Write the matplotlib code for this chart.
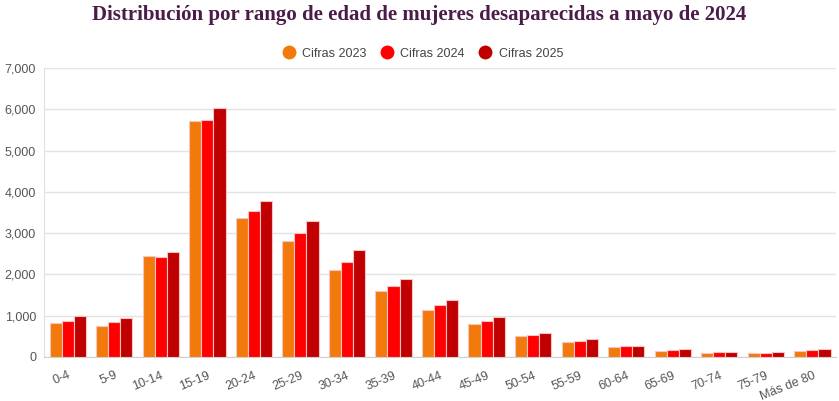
import numpy as np
import matplotlib.pyplot as plt
from matplotlib.ticker import FuncFormatter
from matplotlib.lines import Line2D

categories = ["0-4", "5-9", "10-14", "15-19", "20-24", "25-29", "30-34",
              "35-39", "40-44", "45-49", "50-54", "55-59", "60-64",
              "65-69", "70-74", "75-79", "Más de 80"]

cifras_2023 = [823, 760, 2437, 5714, 3366, 2801, 2115, 1590, 1138, 799,
               508, 355, 242, 145, 105, 97, 153]
cifras_2024 = [880, 850, 2430, 5747, 3527, 3002, 2308, 1727, 1251, 880,
               541, 387, 258, 161, 113, 105, 169]
cifras_2025 = [985, 936, 2542, 6029, 3777, 3301, 2583, 1897, 1388, 969,
               581, 436, 274, 186, 129, 129, 194]

series_labels = ["Cifras 2023", "Cifras 2024", "Cifras 2025"]
colors = ["#f27a0c", "#ff0000", "#c00000"]

plt.rcParams["font.family"] = ["Liberation Sans", "DejaVu Sans"]

fig = plt.figure(figsize=(8.39, 4.01), dpi=100)
ax = fig.add_axes([0.053, 0.11, 0.943, 0.72])

x = np.arange(len(categories))
width = 0.26
for i, (vals, col) in enumerate(zip([cifras_2023, cifras_2024, cifras_2025], colors)):
    ax.bar(x + (i - 1) * width, vals, width, color=col,
           edgecolor="#f6c4c4", linewidth=0.8, zorder=3)

ax.set_xlim(-0.5, len(categories) - 0.5)
ax.set_ylim(0, 7000)
ax.set_yticks(range(0, 7001, 1000))
ax.yaxis.set_major_formatter(FuncFormatter(lambda v, p: f"{int(v):,}"))
ax.grid(axis="y", color="#e3e3e3", linewidth=1, zorder=0)

for s in ["top", "right"]:
    ax.spines[s].set_visible(False)
ax.spines["left"].set_color("#e0e0e0")
ax.spines["bottom"].set_color("#d0d0d0")

ax.set_xticks(x)
ax.set_xticklabels(categories, rotation=22, ha="right", rotation_mode="anchor")
ax.tick_params(axis="both", length=0, labelsize=9, labelcolor="#555555")
ax.tick_params(axis="x", pad=9)
ax.tick_params(axis="y", pad=6)

fig.text(0.5, 0.963, "Distribución por rango de edad de mujeres desaparecidas a mayo de 2024",
         ha="center", va="center", fontsize=15, fontweight="bold",
         family="Liberation Serif", color="#4b1c48")

handles = [Line2D([0], [0], marker="o", color="w", markerfacecolor=c,
                  markersize=11) for c in colors]
fig.legend(handles, series_labels, loc="center", bbox_to_anchor=(0.5, 0.866),
           ncol=3, frameon=False, fontsize=9, handletextpad=0.1,
           columnspacing=0.6, labelcolor="#444444")

fig.savefig("out.png", dpi=100)
